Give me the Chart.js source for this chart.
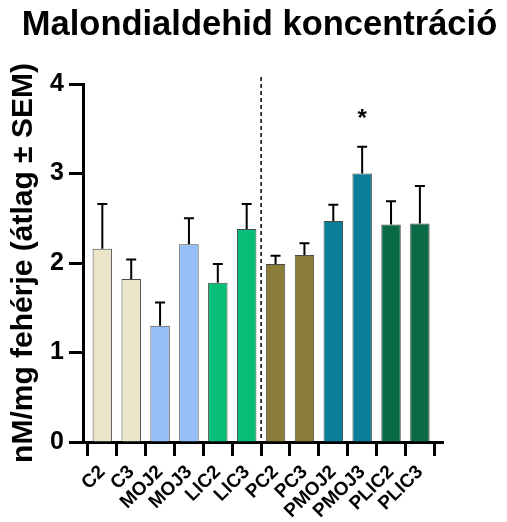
<!DOCTYPE html>
<html>
<head>
<meta charset="utf-8">
<script src="https://cdn.jsdelivr.net/npm/chart.js@4"></script>
<style>
  html, body { margin: 0; padding: 0; background: #ffffff; }
  #wrap { width: 507px; height: 522px; }
</style>
</head>
<body>
<div id="wrap"><canvas id="chart" width="507" height="522"></canvas></div>
<script>
// Group labels along the x axis
const categories = ['C2', 'C3', 'MOJ2', 'MOJ3', 'LIC2', 'LIC3', 'PC2', 'PC3', 'PMOJ2', 'PMOJ3', 'PLIC2', 'PLIC3'];
// Mean malondialdehyde concentration (nM/mg protein)
const means = [2.16, 1.82, 1.30, 2.21, 1.78, 2.38, 1.99, 2.09, 2.47, 3.00, 2.43, 2.44];
// Standard error of the mean
const sems = [0.50, 0.22, 0.26, 0.29, 0.21, 0.28, 0.09, 0.13, 0.18, 0.30, 0.26, 0.42];
// Significance markers shown above the error bars
const marks = ['', '', '', '', '', '', '', '', '', '*', '', ''];
// Y axis tick values
const yTicks = [0, 1, 2, 3, 4];
// Position of the dashed separator between the two groups (between LIC3 and PC2)
const separatorAt = 5.5;

const barColors = ['#EAE5C8', '#EAE5C8', '#93BEF7', '#93BEF7', '#07BE78', '#07BE78',
                   '#8A7D3A', '#8A7D3A', '#097E99', '#097E99', '#0A6A45', '#0A6A45'];

const FONT = "'Liberation Sans', Arial, sans-serif";

// Upper SEM whiskers, significance marks and the dashed group separator
const overlayPlugin = {
  id: 'overlay',
  afterDatasetsDraw(chart) {
    const ctx = chart.ctx;
    const xs = chart.scales.x, ys = chart.scales.y;
    const area = chart.chartArea;
    ctx.save();
    // dashed separator
    const sx = xs.getPixelForValue(separatorAt);
    ctx.strokeStyle = '#000';
    ctx.lineWidth = 1.5;
    ctx.setLineDash([4, 3]);
    ctx.beginPath();
    ctx.moveTo(sx, area.top - 7);
    ctx.lineTo(sx, area.bottom + 5);
    ctx.stroke();
    ctx.setLineDash([]);
    // whiskers
    ctx.lineWidth = 2;
    means.forEach((m, i) => {
      const x = xs.getPixelForValue(i);
      const y0 = ys.getPixelForValue(m);
      const y1 = ys.getPixelForValue(m + sems[i]);
      ctx.beginPath();
      ctx.moveTo(x, y0);
      ctx.lineTo(x, y1);
      ctx.moveTo(x - 5, y1);
      ctx.lineTo(x + 5, y1);
      ctx.stroke();
      if (marks[i]) {
        ctx.fillStyle = '#000';
        ctx.font = 'bold 24px ' + FONT;
        ctx.textAlign = 'center';
        ctx.textBaseline = 'alphabetic';
        ctx.fillText(marks[i], x, y1 - 21);
      }
    });
    ctx.restore();
  }
};

new Chart(document.getElementById('chart'), {
  type: 'bar',
  data: {
    datasets: [{
      data: means.map((m, i) => ({ x: i, y: m })),
      backgroundColor: barColors,
      borderColor: '#4a4a4a',
      borderWidth: 1,
      borderSkipped: 'bottom',
      barPercentage: 0.675,
      categoryPercentage: 1.0,
      yAxisID: 'y'
    }]
  },
  options: {
    responsive: false,
    animation: false,
    devicePixelRatio: 1,
    layout: { padding: { left: 12, right: 0, top: 0, bottom: 0 } },
    plugins: {
      legend: { display: false },
      tooltip: { enabled: false },
      title: {
        display: true,
        text: 'Malondialdehid koncentráció',
        color: '#000',
        font: { family: FONT, size: 34.5, weight: 'bold', lineHeight: 1.2 },
        padding: { top: 5, bottom: 37.6 }
      }
    },
    scales: {
      x: {
        type: 'linear',
        min: -0.67,
        max: 11.8,
        offset: false,
        afterFit(scale) { scale.height = 80; },
        afterBuildTicks(scale) {
          scale.ticks = categories.map((c, i) => ({ value: i }));
        },
        ticks: {
          autoSkip: false,
          includeBounds: false,
          maxRotation: 45,
          minRotation: 45,
          padding: 5,
          color: '#000',
          font: { family: FONT, size: 19, weight: 'bold' },
          callback: (v) => categories[v] ?? ''
        },
        grid: {
          display: true,
          drawOnChartArea: false,
          drawTicks: true,
          tickLength: 14,
          tickWidth: 3,
          tickColor: '#000'
        },
        border: { display: true, color: '#000', width: 3 }
      },
      y: {
        min: 0,
        max: 4,
        afterFit(scale) { scale.width = 71; },
        afterBuildTicks(scale) {
          scale.ticks = yTicks.map(v => ({ value: v }));
        },
        ticks: {
          padding: 5,
          color: '#000',
          font: { family: FONT, size: 25, weight: 'bold' }
        },
        grid: {
          display: true,
          drawOnChartArea: false,
          drawTicks: true,
          tickLength: 14,
          tickWidth: 3,
          tickColor: '#000'
        },
        border: { display: true, color: '#000', width: 3 },
        title: {
          display: true,
          text: 'nM/mg fehérje (átlag ± SEM)',
          color: '#000',
          font: { family: FONT, size: 30, weight: 'bold', lineHeight: 0.8 },
          padding: { top: 0, bottom: 0 }
        }
      },
      // empty right-hand margin so the title spans the full width
      margin: {
        type: 'linear',
        position: 'right',
        display: true,
        afterFit(scale) { scale.width = 64; },
        ticks: { display: false },
        grid: { display: false, drawTicks: false },
        border: { display: false }
      }
    }
  },
  plugins: [overlayPlugin]
});
</script>
</body>
</html>
